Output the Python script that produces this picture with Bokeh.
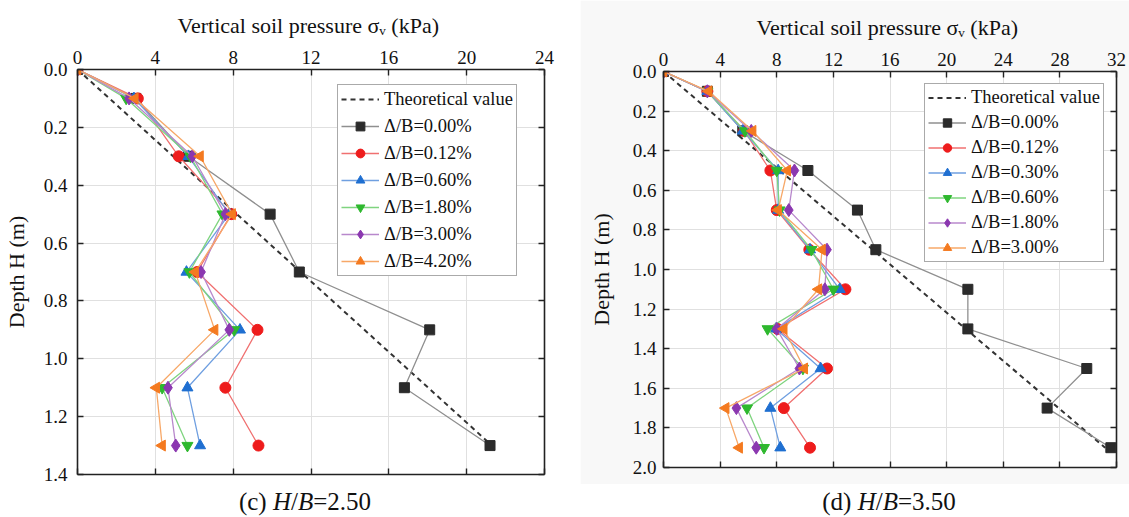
import numpy as np
from bokeh.plotting import figure
from bokeh.models import (Range1d, LinearAxis, FixedTicker, PrintfTickFormatter,
                          CustomJSTickFormatter, Legend, LegendItem, Div)
from bokeh.layouts import row, column
from bokeh.embed import file_html
from bokeh.resources import INLINE

# ---------------- data ----------------
labels_c = ["Δ/B=0.00%", "Δ/B=0.12%", "Δ/B=0.60%", "Δ/B=1.80%", "Δ/B=3.00%", "Δ/B=4.20%"]
depth_c = [0.0, 0.1, 0.3, 0.5, 0.7, 0.9, 1.1, 1.3]
c_000 = [0, 3.0, 5.7, 9.9, 11.4, 18.1, 16.8, 21.2]
c_012 = [0, 3.1, 5.2, 7.9, 6.15, 9.25, 7.6, 9.3]
c_060 = [0, 2.9, 5.7, 7.8, 5.6, 8.35, 5.65, 6.3]
c_180 = [0, 2.5, 5.8, 7.45, 5.75, 8.05, 4.35, 5.65]
c_300 = [0, 2.65, 5.9, 7.6, 6.35, 7.8, 4.65, 5.05]
c_420 = [0, 2.95, 6.3, 7.95, 6.05, 7.05, 4.05, 4.35]
theory_depth_c = [0.0, 1.3]
theory_c = [0.0, 21.3]

labels_d = ["Δ/B=0.00%", "Δ/B=0.12%", "Δ/B=0.30%", "Δ/B=0.60%", "Δ/B=1.80%", "Δ/B=3.00%"]
depth_d = [0.0, 0.1, 0.3, 0.5, 0.7, 0.9, 1.1, 1.3, 1.5, 1.7, 1.9]
d_000 = [0, 3.1, 5.6, 10.2, 13.7, 15.0, 21.5, 21.5, 29.9, 27.1, 31.6]
d_012 = [0, 3.1, 5.7, 7.55, 8.0, 10.3, 12.85, 8.05, 11.55, 8.5, 10.35]
d_030 = [0, 3.1, 5.6, 8.1, 8.1, 10.35, 12.45, 7.95, 11.1, 7.55, 8.25]
d_060 = [0, 3.1, 5.75, 8.0, 8.2, 10.45, 12.0, 7.35, 9.85, 5.9, 7.1]
d_180 = [0, 3.1, 6.2, 9.25, 8.85, 11.55, 11.4, 8.0, 9.6, 5.15, 6.55]
d_300 = [0, 3.2, 6.3, 8.75, 8.1, 11.2, 10.95, 8.5, 9.95, 4.4, 5.35]
theory_depth_d = [0.0, 1.9]
theory_d = [0.0, 31.2]

xticks_c = [0, 4, 8, 12, 16, 20, 24]
yticks_c = [0.0, 0.2, 0.4, 0.6, 0.8, 1.0, 1.2, 1.4]
xticks_d = [0, 4, 8, 12, 16, 20, 24, 28, 32]
yticks_d = [0.0, 0.2, 0.4, 0.6, 0.8, 1.0, 1.2, 1.4, 1.6, 1.8, 2.0]

# ---------------- style ----------------
FONT = "Liberation Serif"
colors = ["#2b2b2b", "#ee1c1c", "#1f6fd1", "#2eb82e", "#8b37b0", "#f47a20"]
line_colors = ["#8f8f8f", "#f07070", "#6f9fe0", "#7fd47f", "#b888cc", "#f7a868"]
markers = ["square", "circle", "triangle", "inverted_triangle", "diamond", "triangle"]
angles = [0.0, 0.0, 0.0, 0.0, 0.0, np.pi / 2]
sizes = [10, 11, 11, 11, 13, 11]


def style_axis(ax, ticks, labels=True, standoff=12):
    ax.ticker = FixedTicker(ticks=ticks)
    ax.major_tick_in = 6
    ax.major_tick_out = 0
    ax.minor_tick_in = 0
    ax.minor_tick_out = 0
    ax.axis_line_width = 1.6
    ax.axis_line_color = "#222222"
    ax.major_tick_line_width = 1.4
    ax.major_tick_line_color = "#222222"
    ax.major_label_text_font = FONT
    ax.major_label_text_font_size = "19px"
    ax.major_label_text_color = "#111111"
    ax.major_label_standoff = standoff
    if not labels:
        ax.formatter = CustomJSTickFormatter(code="return ''")
        ax.major_label_standoff = 0


def make_panel(depth, series, labels, tdepth, tvals, xmax, ymax, xticks, yticks,
               w, h, mb_left, mb_top, mb_right, mb_bottom,
               ystand, ylstand, leg_loc, leg_h, leg_sp, bfill):
    p = figure(width=w, height=h,
               x_range=Range1d(0, xmax), y_range=Range1d(ymax, 0),
               x_axis_location="above", output_backend="svg",
               toolbar_location=None, min_border_left=mb_left,
               min_border_top=mb_top, min_border_right=mb_right,
               min_border_bottom=mb_bottom, border_fill_color=bfill,
               outline_line_color=None, margin=0)
    style_axis(p.xaxis[0], xticks, standoff=6)
    style_axis(p.yaxis[0], yticks, standoff=ystand)
    p.xaxis.axis_label = "Vertical soil pressure  σᵥ (kPa)"
    p.yaxis.axis_label = "Depth H (m)"
    p.xaxis.axis_label_text_font = FONT
    p.yaxis.axis_label_text_font = FONT
    p.xaxis.axis_label_text_font_style = "normal"
    p.yaxis.axis_label_text_font_style = "normal"
    p.xaxis.axis_label_text_font_size = "22px"
    p.yaxis.axis_label_text_font_size = "22px"
    p.xaxis.axis_label_text_color = "#111111"
    p.yaxis.axis_label_text_color = "#111111"
    p.xaxis.axis_label_standoff = 10
    p.yaxis.axis_label_standoff = ylstand
    p.yaxis.formatter = PrintfTickFormatter(format="%.1f")
    bx = LinearAxis(); style_axis(bx, xticks, labels=False)
    ry = LinearAxis(); style_axis(ry, yticks, labels=False)
    p.add_layout(bx, "below")
    p.add_layout(ry, "right")
    p.xgrid.ticker = FixedTicker(ticks=xticks)
    p.ygrid.ticker = FixedTicker(ticks=yticks)
    p.xgrid.grid_line_color = "#e0e0e0"
    p.ygrid.grid_line_color = "#e0e0e0"
    p.background_fill_color = "white"

    items = []
    th = p.line(tvals, tdepth, line_color="#333333", line_width=2, line_dash="5 4")
    items.append(LegendItem(label="Theoretical value", renderers=[th]))
    for i, vals in enumerate(series):
        ln = p.line(vals, depth, line_color=line_colors[i], line_width=1.3)
        sc = p.scatter(vals, depth, marker=markers[i], size=sizes[i],
                       fill_color=colors[i], line_color=colors[i],
                       angle=angles[i], angle_units="rad")
        items.append(LegendItem(label=labels[i], renderers=[ln, sc]))

    leg = Legend(items=items, location=leg_loc)
    leg.label_text_font = FONT
    leg.label_text_font_size = "18.5px"
    leg.label_text_color = "#111111"
    leg.glyph_width = 38
    leg.glyph_height = leg_h
    leg.label_height = leg_h
    leg.spacing = leg_sp
    leg.padding = 3
    leg.margin = 0
    leg.label_standoff = 5
    leg.border_line_color = "#555555"
    leg.border_line_width = 1.2
    leg.background_fill_color = "white"
    leg.background_fill_alpha = 1.0
    p.add_layout(leg, "center")
    return p


p1 = make_panel(depth_c, [c_000, c_012, c_060, c_180, c_300, c_420], labels_c,
                theory_depth_c, theory_c, 24, 1.4, xticks_c, yticks_c,
                580, 484, 77, 69, 36, 10, 10, 12, (260, 198), 22, 5, "white")
p2 = make_panel(depth_d, [d_000, d_012, d_030, d_060, d_180, d_300], labels_d,
                theory_depth_d, theory_d, 32, 2.0, xticks_d, yticks_d,
                549, 484, 83, 71, 13, 17, 7, 16, (261, 205), 21, 4, "#f8f8f8")

cap_style = "text-align:center;font-family:'Liberation Serif';font-size:25px;color:#111;"
d1 = Div(text=f"<div style=\"{cap_style}padding-left:30px;width:580px\">(c) <i>H</i>/<i>B</i>=2.50</div>",
         width=580, height=33, margin=0)
d2 = Div(text=f"<div style=\"{cap_style}padding-left:69px;width:549px\">(d) <i>H</i>/<i>B</i>=3.50</div>",
         width=549, height=33, margin=0)

layout = row(column(p1, d1, spacing=0, margin=0), column(p2, d2, spacing=0, margin=0),
             spacing=0, margin=0)
open("out.html", "w").write(file_html(layout, INLINE))
